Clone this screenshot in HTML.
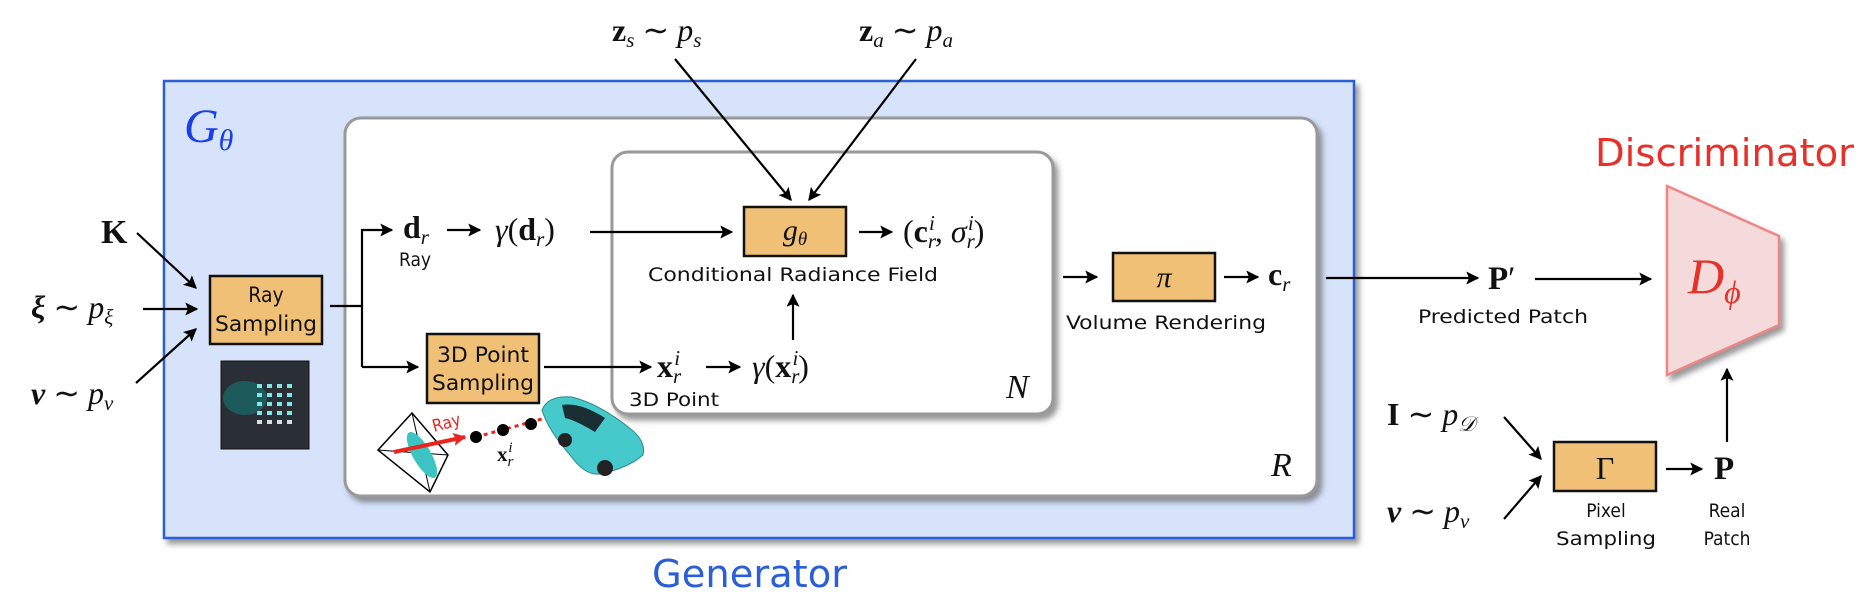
<!DOCTYPE html>
<html><head><meta charset="utf-8"><style>
html,body{margin:0;padding:0;background:#fff;}
svg{display:block}
.s{font-family:"DejaVu Sans Condensed","DejaVu Sans","Liberation Sans",sans-serif;fill:#111}
.m{font-family:"Liberation Serif",serif;fill:#111}
.b{font-weight:bold}
.i{font-style:italic}
</style></head><body>
<svg width="1864" height="600" viewBox="0 0 1864 600" xmlns="http://www.w3.org/2000/svg">
<defs>
<marker id="ah" viewBox="0 0 10 10" refX="9" refY="5" markerWidth="14" markerHeight="13" markerUnits="userSpaceOnUse" orient="auto-start-reverse"><path d="M0,0 L10,5 L0,10 L2,5 z" fill="#000"/></marker>
<marker id="ahr" viewBox="0 0 10 10" refX="9" refY="5" markerWidth="14" markerHeight="13" markerUnits="userSpaceOnUse" orient="auto"><path d="M0,0 L10,5 L0,10 L2,5 z" fill="#e8251f"/></marker>
<filter id="sh" x="-5%" y="-5%" width="115%" height="115%"><feDropShadow dx="4" dy="5" stdDeviation="3" flood-color="#555" flood-opacity="0.6"/></filter>
</defs>

<rect x="164" y="81" width="1190" height="457" fill="#d6e3fa" stroke="#2a5fd6" stroke-width="2.5" filter="url(#sh)"/>
<text x="184" y="142" class="m i" font-size="48" style="fill:#1a3fe8">G<tspan font-size="30" dy="8">θ</tspan></text>
<text x="652" y="587" class="s" font-size="38" textLength="195" lengthAdjust="spacingAndGlyphs" style="fill:#2a5fd6">Generator</text>

<rect x="345" y="118" width="972" height="378" rx="16" fill="#fff" stroke="#999" stroke-width="3" filter="url(#sh)"/>
<rect x="612" y="152" width="441" height="262" rx="16" fill="#fff" stroke="#999" stroke-width="3" filter="url(#sh)"/>
<text x="1271" y="476" class="m i" font-size="34">R</text>
<text x="1006" y="398" class="m i" font-size="34">N</text>

<text x="101" y="243" class="m b" font-size="34">K</text>
<text x="31" y="318" class="m" font-size="32"><tspan class="b i">ξ</tspan> ∼ <tspan class="i">p</tspan><tspan font-size="21" dy="6" class="i">ξ</tspan></text>
<text x="31" y="404" class="m" font-size="32"><tspan class="b i">ν</tspan> ∼ <tspan class="i">p</tspan><tspan font-size="21" dy="6" class="i">ν</tspan></text>
<g stroke="#000" stroke-width="2.2" fill="none" marker-end="url(#ah)">
<line x1="137" y1="233" x2="196" y2="288"/>
<line x1="143" y1="309" x2="197" y2="309"/>
<line x1="136" y1="383" x2="196" y2="329"/>
</g>

<rect x="210" y="276" width="112" height="68" fill="#f0c077" stroke="#111" stroke-width="2.5"/>
<text x="266" y="302" class="s" font-size="21" text-anchor="middle">Ray</text>
<text x="266" y="331" class="s" font-size="21" text-anchor="middle" textLength="102" lengthAdjust="spacingAndGlyphs">Sampling</text>
<rect x="221" y="361" width="88" height="88" fill="#2a2e35" stroke="#111"/>
<g fill="#1d5a5c"><ellipse cx="245" cy="398" rx="22" ry="17"/></g>
<g fill="#7ee8e6">
<rect x="257" y="384" width="5" height="4"/><rect x="267" y="384" width="5" height="4"/><rect x="277" y="384" width="5" height="4"/><rect x="287" y="384" width="5" height="4"/>
<rect x="257" y="393" width="5" height="4"/><rect x="267" y="393" width="5" height="4"/><rect x="277" y="393" width="5" height="4"/><rect x="287" y="393" width="5" height="4"/>
<rect x="257" y="402" width="5" height="4"/><rect x="267" y="402" width="5" height="4"/><rect x="277" y="402" width="5" height="4"/><rect x="287" y="402" width="5" height="4"/>
<rect x="257" y="411" width="5" height="4"/><rect x="267" y="411" width="5" height="4"/><rect x="277" y="411" width="5" height="4"/><rect x="287" y="411" width="5" height="4"/>
</g>
<g fill="#ddd"><rect x="257" y="420" width="5" height="4"/><rect x="267" y="420" width="5" height="4"/><rect x="277" y="420" width="5" height="4"/><rect x="287" y="420" width="5" height="4"/></g>

<g stroke="#000" stroke-width="2.2" fill="none">
<polyline points="330,306 362,306"/>
<polyline points="362,367 362,230 392,230" marker-end="url(#ah)"/>
<polyline points="362,367 418,367" marker-end="url(#ah)"/>
</g>
<text x="403" y="238" class="m b" font-size="32">d<tspan font-size="21" dy="6" class="i" font-weight="normal">r</tspan></text>
<text x="399" y="266" class="s" font-size="19">Ray</text>
<g stroke="#000" stroke-width="2.2" fill="none" marker-end="url(#ah)">
<line x1="447" y1="230" x2="480" y2="230"/>
<line x1="590" y1="232" x2="732" y2="232"/>
<line x1="859" y1="232" x2="892" y2="232"/>
<line x1="544" y1="367" x2="651" y2="367"/>
<line x1="706" y1="367" x2="740" y2="367"/>
<line x1="793" y1="340" x2="793" y2="295"/>
<line x1="675" y1="59" x2="791" y2="200"/>
<line x1="916" y1="59" x2="809" y2="200"/>
<line x1="1063" y1="277" x2="1097" y2="277"/>
<line x1="1224" y1="277" x2="1258" y2="277"/>
<line x1="1326" y1="278" x2="1478" y2="278"/>
<line x1="1535" y1="279" x2="1651" y2="279"/>
<line x1="1504" y1="417" x2="1541" y2="459"/>
<line x1="1504" y1="519" x2="1541" y2="476"/>
<line x1="1666" y1="469" x2="1702" y2="469"/>
<line x1="1727" y1="442" x2="1727" y2="369"/>
</g>
<text x="495" y="240" class="m" font-size="32"><tspan class="i">γ</tspan>(<tspan class="b">d</tspan><tspan font-size="21" dy="6" class="i">r</tspan><tspan dy="-6">)</tspan></text>

<text x="612" y="41" class="m" font-size="32"><tspan class="b">z</tspan><tspan font-size="21" dy="6" class="i">s</tspan><tspan dy="-6"> ∼ </tspan><tspan class="i">p</tspan><tspan font-size="21" dy="6" class="i">s</tspan></text>
<text x="859" y="41" class="m" font-size="32"><tspan class="b">z</tspan><tspan font-size="21" dy="6" class="i">a</tspan><tspan dy="-6"> ∼ </tspan><tspan class="i">p</tspan><tspan font-size="21" dy="6" class="i">a</tspan></text>

<rect x="744" y="207" width="102" height="49" fill="#f0c077" stroke="#111" stroke-width="2.5"/>
<text x="795" y="240" class="m i" font-size="30" text-anchor="middle">g<tspan font-size="19" dy="5">θ</tspan></text>
<text x="903" y="242" class="m" font-size="32">(<tspan class="b">c</tspan><tspan font-size="21" dy="6" class="i">r</tspan><tspan font-size="21" dy="-18" dx="-7" class="i">i</tspan><tspan dy="12">, </tspan><tspan class="i">σ</tspan><tspan font-size="21" dy="6" class="i">r</tspan><tspan font-size="21" dy="-18" dx="-7" class="i">i</tspan><tspan dy="12">)</tspan></text>
<text x="648" y="281" class="s" font-size="19" textLength="290" lengthAdjust="spacingAndGlyphs">Conditional Radiance Field</text>

<rect x="427" y="334" width="112" height="69" fill="#f0c077" stroke="#111" stroke-width="2.5"/>
<text x="483" y="362" class="s" font-size="21" text-anchor="middle" textLength="92" lengthAdjust="spacingAndGlyphs">3D Point</text>
<text x="483" y="390" class="s" font-size="21" text-anchor="middle" textLength="102" lengthAdjust="spacingAndGlyphs">Sampling</text>
<text x="657" y="377" class="m b" font-size="32">x<tspan font-size="21" dy="6" class="i" font-weight="normal">r</tspan><tspan font-size="21" dy="-18" dx="-7" class="i" font-weight="normal">i</tspan></text>
<text x="752" y="377" class="m" font-size="32"><tspan class="i">γ</tspan>(<tspan class="b">x</tspan><tspan font-size="21" dy="6" class="i">r</tspan><tspan font-size="21" dy="-18" dx="-7" class="i">i</tspan><tspan dy="12">)</tspan></text>
<text x="629" y="406" class="s" font-size="19" textLength="90" lengthAdjust="spacingAndGlyphs">3D Point</text>

<g>
<polygon points="412,413 378,450 430,492 448,455" fill="none" stroke="#000" stroke-width="1.5"/>
<line x1="412" y1="413" x2="430" y2="492" stroke="#000" stroke-width="1"/>
<line x1="378" y1="450" x2="448" y2="455" stroke="#000" stroke-width="1"/>
<ellipse cx="422" cy="455" rx="9" ry="26" fill="#3cc4c4" transform="rotate(-30 422 455)"/>
<line x1="394" y1="452" x2="465" y2="437" stroke="#e8251f" stroke-width="4" marker-end="url(#ahr)"/>
<text x="434" y="432" class="s" font-size="17" style="fill:#e8251f" transform="rotate(-15 434 432)">Ray</text>
<line x1="476" y1="437" x2="575" y2="410" stroke="#e8251f" stroke-width="3" stroke-dasharray="4,4"/>
<circle cx="476" cy="437" r="6" fill="#000"/><circle cx="503" cy="430" r="6" fill="#000"/><circle cx="531" cy="424" r="6" fill="#000"/>
<text x="497" y="461" class="m b" font-size="21">x<tspan font-size="15" dy="5" class="i" font-weight="normal">r</tspan><tspan font-size="15" dy="-14" dx="-5" class="i" font-weight="normal">i</tspan></text>
<path d="M542,410 Q548,395 572,397 Q600,404 632,430 Q646,442 643,455 Q628,468 600,474 Q585,476 570,455 Q548,430 542,410z" fill="#45c9cb" stroke="#2a8a8c"/>
<path d="M562,405 Q580,402 605,418 L595,432 Q575,420 565,418z" fill="#1b2e33"/>
<circle cx="565" cy="440" r="7" fill="#222"/><circle cx="605" cy="468" r="8" fill="#222"/>
</g>

<rect x="1113" y="253" width="102" height="48" fill="#f0c077" stroke="#111" stroke-width="2.5"/>
<text x="1164" y="287" class="m i" font-size="30" text-anchor="middle">π</text>
<text x="1268" y="285" class="m b" font-size="32">c<tspan font-size="21" dy="6" class="i" font-weight="normal">r</tspan></text>
<text x="1066" y="329" class="s" font-size="19" textLength="200" lengthAdjust="spacingAndGlyphs">Volume Rendering</text>

<text x="1488" y="289" class="m b" font-size="33">P<tspan font-weight="normal">′</tspan></text>
<text x="1418" y="323" class="s" font-size="19" textLength="170" lengthAdjust="spacingAndGlyphs">Predicted Patch</text>

<text x="1595" y="166" class="s" font-size="38" textLength="259" lengthAdjust="spacingAndGlyphs" style="fill:#e8302a">Discriminator</text>
<polygon points="1667,186 1779,236 1779,325 1667,375" fill="#f5dadb" stroke="#ef8585" stroke-width="2.5" filter="url(#sh)"/>
<text x="1688" y="293" class="m i" font-size="50" style="fill:#e8302a">D<tspan font-size="32" dy="10">ϕ</tspan></text>

<text x="1387" y="425" class="m" font-size="32"><tspan class="b">I</tspan> ∼ <tspan class="i">p</tspan><tspan font-size="21" dy="6" class="i">𝒟</tspan></text>
<text x="1387" y="522" class="m" font-size="32"><tspan class="b i">ν</tspan> ∼ <tspan class="i">p</tspan><tspan font-size="21" dy="6" class="i">ν</tspan></text>
<rect x="1554" y="442" width="102" height="49" fill="#f0c077" stroke="#111" stroke-width="2.5"/>
<text x="1605" y="479" class="m" font-size="32" text-anchor="middle">Γ</text>
<text x="1714" y="479" class="m b" font-size="33">P</text>
<text x="1606" y="517" class="s" font-size="19" text-anchor="middle">Pixel</text>
<text x="1606" y="545" class="s" font-size="19" text-anchor="middle" textLength="100" lengthAdjust="spacingAndGlyphs">Sampling</text>
<text x="1727" y="517" class="s" font-size="19" text-anchor="middle">Real</text>
<text x="1727" y="545" class="s" font-size="19" text-anchor="middle">Patch</text>
</svg>
</body></html>
